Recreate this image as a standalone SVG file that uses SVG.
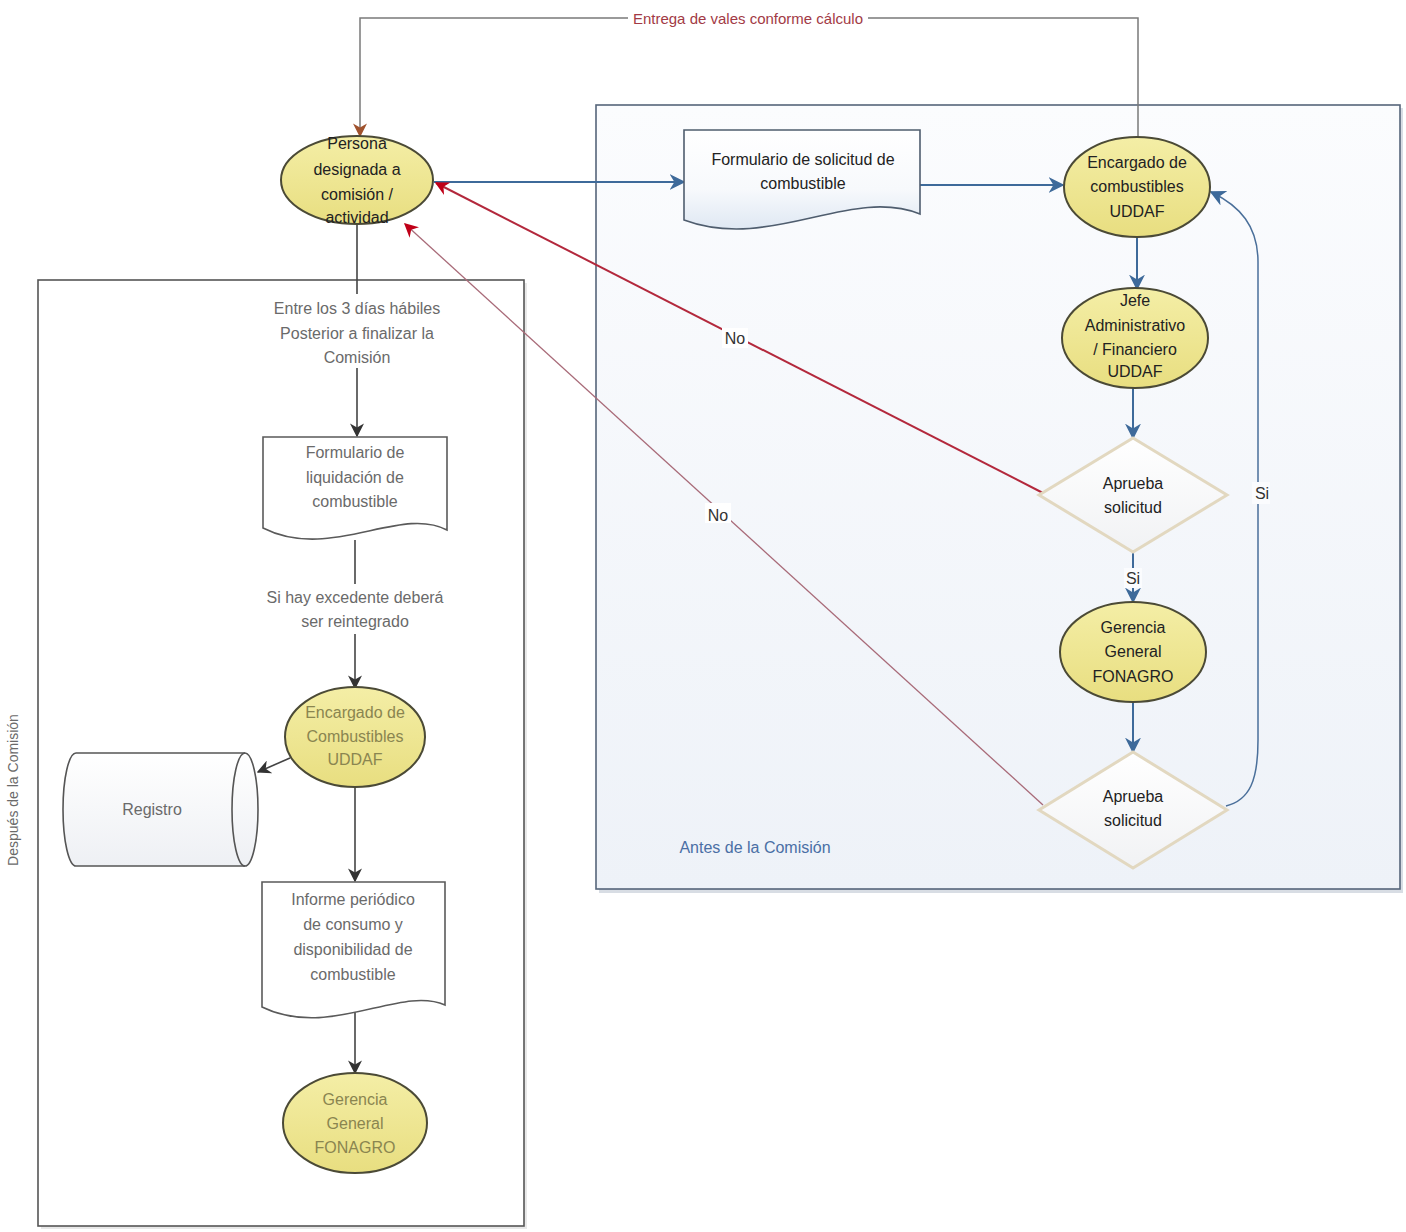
<svg xmlns="http://www.w3.org/2000/svg" width="1406" height="1232" viewBox="0 0 1406 1232">
<defs>
<style>
text{font-family:"Liberation Sans",Arial,sans-serif;font-size:16px;text-anchor:middle}
.nd{fill:#222}
.lt{fill:#6a6a6a}
.lbl{fill:#333}
.ell{fill:url(#yel);stroke:#4b4a36;stroke-width:2}
.doc{fill:url(#docg);stroke:#4f5d6e;stroke-width:1.6}
.docl{fill:#fff;stroke:#5a5a5a;stroke-width:1.6}
.dia{fill:url(#diag);stroke:#e2d8c0;stroke-width:3}
.cb{fill:none;stroke:#3e6a9a;stroke-width:2}
.cd{fill:none;stroke:#444;stroke-width:1.6;marker-end:url(#ad)}
.cr{fill:none;stroke:#b3283c;stroke-width:2;marker-end:url(#ar)}
</style>
<linearGradient id="yel" x1="0" y1="0" x2="0" y2="1"><stop offset="0" stop-color="#f4eea6"/><stop offset="1" stop-color="#e8de80"/></linearGradient>
<linearGradient id="docg" x1="0" y1="0" x2="0" y2="1"><stop offset="0" stop-color="#ffffff"/><stop offset="0.6" stop-color="#f7f9fc"/><stop offset="1" stop-color="#dfe8f3"/></linearGradient>
<linearGradient id="diag" x1="0" y1="0" x2="0" y2="1"><stop offset="0" stop-color="#ffffff"/><stop offset="1" stop-color="#f1f2f4"/></linearGradient>
<linearGradient id="cont" x1="0" y1="0" x2="0" y2="1"><stop offset="0" stop-color="#fbfcfe"/><stop offset="1" stop-color="#eef2f8"/></linearGradient>
<linearGradient id="cyl" x1="0" y1="0" x2="0" y2="1"><stop offset="0" stop-color="#ffffff"/><stop offset="1" stop-color="#eef0f4"/></linearGradient>
<marker id="ad" viewBox="0 0 10 10" refX="9" refY="5" markerWidth="14" markerHeight="14" markerUnits="userSpaceOnUse" orient="auto"><path d="M0,0 L10,5 L0,10 L3,5 Z" fill="#333"/></marker>
<marker id="ar" viewBox="0 0 10 10" refX="9" refY="5" markerWidth="14" markerHeight="14" markerUnits="userSpaceOnUse" orient="auto"><path d="M0,0 L10,5 L0,10 L3,5 Z" fill="#c00018"/></marker>
<marker id="abr" viewBox="0 0 10 10" refX="9" refY="5" markerWidth="14" markerHeight="14" markerUnits="userSpaceOnUse" orient="auto"><path d="M0,0 L10,5 L0,10 L3,5 Z" fill="#a0522d"/></marker>
<marker id="abl" viewBox="0 0 10 10" refX="9" refY="5" markerWidth="16" markerHeight="16" markerUnits="userSpaceOnUse" orient="auto"><path d="M0,0 L10,5 L0,10 L3,5 Z" fill="#3e6a9a"/></marker>
</defs>
<rect width="1406" height="1232" fill="#fff"/>

<!-- containers -->
<g id="cont-despues">
<rect x="41" y="283" width="486" height="946" fill="#e8e8e8"/>
<rect x="38" y="280" width="486" height="946" fill="#fff" stroke="#555" stroke-width="1.6"/>
<text x="18" y="790" transform="rotate(-90 18 790)" class="lt" style="font-size:14px">Después de la Comisión</text>
</g>
<g id="cont-antes">
<rect x="599" y="108" width="804" height="785" fill="#d8dde4"/>
<rect x="596" y="105" width="804" height="784" fill="url(#cont)" stroke="#56657a" stroke-width="1.6"/>
<text x="755" y="853" style="fill:#4a6fa5;font-size:16px">Antes de la Comisión</text>
</g>

<!-- connectors -->
<g id="connectors">
<path d="M1138,140 V18 H360 V136" fill="none" stroke="#7a7a7a" stroke-width="1.5" marker-end="url(#abr)"/>
<rect x="628" y="8" width="240" height="20" fill="#fff"/>
<text x="748" y="24" style="fill:#a23a45;font-size:15px">Entrega de vales conforme cálculo</text>

<path d="M434,182 H684" class="cb" marker-end="url(#abl)"/>
<path d="M920,185 H1063" class="cb" marker-end="url(#abl)"/>
<path d="M1137,237 V289" class="cb" marker-end="url(#abl)"/>
<path d="M1133,388 V438" class="cb" marker-end="url(#abl)"/>
<path d="M1133,553 V602" class="cb" marker-end="url(#abl)"/>
<rect x="1124" y="568" width="18" height="20" fill="#fbfcfe"/>
<text x="1133" y="584" class="lbl">Si</text>
<path d="M1133,700 V752" class="cb" marker-end="url(#abl)"/>
<path d="M1226,806 C1250,800 1258,780 1258,740 L1258,262 C1258,226 1240,206 1211,192" fill="none" stroke="#4a6f9a" stroke-width="1.5" marker-end="url(#abl)"/>
<rect x="1252" y="482" width="18" height="22" fill="#fbfcfe"/>
<text x="1262" y="499" class="lbl">Si</text>

<path d="M1043,493 L436,183" class="cr"/>
<rect x="722" y="328" width="26" height="20" fill="#fff"/>
<text x="735" y="344" class="lbl">No</text>
<path d="M1043,805 L405,224" fill="none" stroke="#a86a78" stroke-width="1.3" marker-end="url(#ar)"/>
<rect x="705" y="503" width="26" height="20" fill="#fff"/>
<text x="718" y="521" class="lbl">No</text>

<path d="M357,223 V436" class="cd"/>
<rect x="255" y="294" width="204" height="74" fill="#fff"/>
<text x="357" y="314" class="lt">Entre los 3 días hábiles</text>
<text x="357" y="339" class="lt">Posterior a finalizar la</text>
<text x="357" y="363" class="lt">Comisión</text>

<path d="M355,540 V688" class="cd"/>
<rect x="245" y="584" width="220" height="50" fill="#fff"/>
<text x="355" y="603" class="lt">Si hay excedente deberá</text>
<text x="355" y="627" class="lt">ser reintegrado</text>

<path d="M290,758 L258,772" class="cd"/>
<path d="M355,787 V881" class="cd"/>
<path d="M355,1012 V1073" class="cd"/>
</g>

<!-- nodes -->
<g id="n-persona">
<ellipse cx="357" cy="180" rx="76" ry="44" class="ell"/>
<text x="357" y="149" class="nd">Persona</text>
<text x="357" y="175" class="nd">designada a</text>
<text x="357" y="200" class="nd">comisión /</text>
<text x="357" y="223" class="nd">actividad</text>
</g>
<g id="n-form-solicitud">
<path d="M684,130 H920 V214 C850,186 770,252 684,220 Z" class="doc"/>
<text x="803" y="165" class="nd">Formulario de solicitud de</text>
<text x="803" y="189" class="nd">combustible</text>
</g>
<g id="n-encargado">
<ellipse cx="1137" cy="187" rx="73" ry="50" class="ell"/>
<text x="1137" y="168" class="nd">Encargado de</text>
<text x="1137" y="192" class="nd">combustibles</text>
<text x="1137" y="217" class="nd">UDDAF</text>
</g>
<g id="n-jefe">
<ellipse cx="1135" cy="338" rx="73" ry="50" class="ell"/>
<text x="1135" y="306" class="nd">Jefe</text>
<text x="1135" y="331" class="nd">Administrativo</text>
<text x="1135" y="355" class="nd">/ Financiero</text>
<text x="1135" y="377" class="nd">UDDAF</text>
</g>
<g id="n-aprueba1">
<path d="M1133,438 L1227,495 L1133,552 L1039,495 Z" class="dia"/>
<text x="1133" y="489" class="nd">Aprueba</text>
<text x="1133" y="513" class="nd">solicitud</text>
</g>
<g id="n-gerencia1">
<ellipse cx="1133" cy="652" rx="73" ry="50" class="ell"/>
<text x="1133" y="633" class="nd">Gerencia</text>
<text x="1133" y="657" class="nd">General</text>
<text x="1133" y="682" class="nd">FONAGRO</text>
</g>
<g id="n-aprueba2">
<path d="M1133,752 L1227,810 L1133,868 L1039,810 Z" class="dia"/>
<text x="1133" y="802" class="nd">Aprueba</text>
<text x="1133" y="826" class="nd">solicitud</text>
</g>
<g id="n-form-liquidacion">
<path d="M263,437 H447 V530 C400,505 330,562 263,528 Z" class="docl"/>
<text x="355" y="458" class="lt">Formulario de</text>
<text x="355" y="483" class="lt">liquidación de</text>
<text x="355" y="507" class="lt">combustible</text>
</g>
<g id="n-encargado2">
<ellipse cx="355" cy="737" rx="70" ry="50" class="ell"/>
<text x="355" y="718" style="fill:#8a8550">Encargado de</text>
<text x="355" y="742" style="fill:#8a8550">Combustibles</text>
<text x="355" y="765" style="fill:#8a8550">UDDAF</text>
</g>
<g id="n-registro">
<path d="M76,753 H245 A13,56.5 0 0 1 245,866 H76 A13,56.5 0 0 1 76,753 Z" fill="url(#cyl)" stroke="#555" stroke-width="1.6"/>
<path d="M245,753 A13,56.5 0 0 0 245,866" fill="none" stroke="#555" stroke-width="1.6"/>
<text x="152" y="815" class="lt">Registro</text>
</g>
<g id="n-informe">
<path d="M262,882 H445 V1005 C400,985 330,1040 262,1007 Z" class="docl"/>
<text x="353" y="905" class="lt">Informe periódico</text>
<text x="353" y="930" class="lt">de consumo y</text>
<text x="353" y="955" class="lt">disponibilidad de</text>
<text x="353" y="980" class="lt">combustible</text>
</g>
<g id="n-gerencia2">
<ellipse cx="355" cy="1123" rx="72" ry="50" class="ell"/>
<text x="355" y="1105" style="fill:#8a8550">Gerencia</text>
<text x="355" y="1129" style="fill:#8a8550">General</text>
<text x="355" y="1153" style="fill:#8a8550">FONAGRO</text>
</g>
</svg>
